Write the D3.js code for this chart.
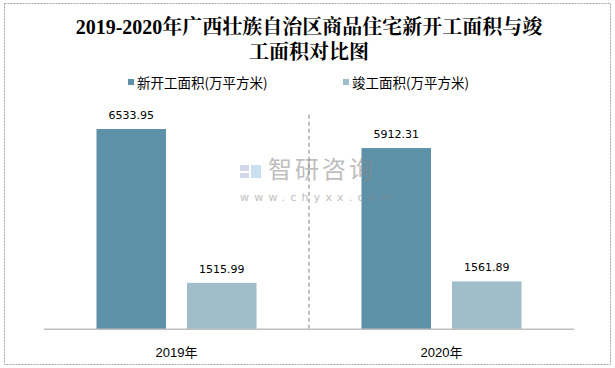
<!DOCTYPE html>
<html><head><meta charset="utf-8">
<script src="https://cdn.jsdelivr.net/npm/d3@7"></script>
<style>html,body{margin:0;padding:0;background:#fff;}svg{display:block;}</style>
</head><body>
<svg id="c" width="615" height="368"></svg>
<script>
const categories = ["2019年", "2020年"];
const seriesNames = ["新开工面积(万平方米)", "竣工面积(万平方米)"];
const newStarts = [6533.95, 5912.31];
const completed = [1515.99, 1561.89];
const titleLines = ["2019-2020年广西壮族自治区商品住宅新开工面积与竣", "工面积对比图"];
const colors = ["#5d91a7", "#a0bdca"];

const svg = d3.select("#c");
svg.append("rect").attr("x", 4.5).attr("y", 3.5).attr("width", 606).attr("height", 361)
  .attr("fill", "#fff").attr("stroke", "#a6a6a6").attr("stroke-dasharray", "2,1");

const t = svg.append("text").attr("text-anchor", "middle")
  .attr("font-family", "'Liberation Serif','Noto Serif CJK SC','Noto Sans CJK SC',serif")
  .attr("font-weight", "bold").attr("font-size", 20).attr("fill", "#000");
titleLines.forEach((l, i) => t.append("tspan").attr("x", 309).attr("y", 34 + i * 25).text(l));

const x = d3.scaleBand().domain(categories).range([44, 574]).paddingInner(0).paddingOuter(0);
const xs = d3.scaleBand().domain(seriesNames).range([0, x.bandwidth()]).paddingInner(0.232).paddingOuter(0.58);
const y = d3.scaleLinear().domain([0, 7000]).range([329.3, 114.7]);

// legend
const legendX = [128, 343];
seriesNames.forEach((s, i) => {
  svg.append("rect").attr("x", legendX[i]).attr("y", 79).attr("width", 6).attr("height", 6).attr("fill", colors[i]);
  svg.append("text").attr("x", legendX[i] + 9).attr("y", 88)
    .attr("font-family", "'Noto Sans CJK SC','Microsoft YaHei',sans-serif").attr("font-size", 13.5)
    .attr("fill", "#000").text(s);
});

// divider
svg.append("line").attr("x1", x.range()[0] + x.step()).attr("x2", x.range()[0] + x.step())
  .attr("y1", y(7000)).attr("y2", y(0)).attr("stroke", "#bfbfbf").attr("stroke-width", 2).attr("stroke-dasharray", "4,3");

const data = categories.map((c, i) => ({c, vals: [newStarts[i], completed[i]]}));
const g = svg.append("g");
data.forEach(d => {
  d.vals.forEach((v, j) => {
    const bx = x(d.c) + xs(seriesNames[j]);
    g.append("rect").attr("x", bx).attr("y", y(v)).attr("width", xs.bandwidth())
      .attr("height", y(0) - y(v)).attr("fill", colors[j]);
    g.append("text").attr("x", bx + xs.bandwidth() / 2).attr("y", y(v) - 10)
      .attr("text-anchor", "middle").attr("font-family", "'DejaVu Sans',sans-serif")
      .attr("font-size", 11).attr("fill", "#000").text(v.toFixed(2));
  });
});

const xAxis = svg.append("g").attr("transform", `translate(0,${y(0)})`)
  .call(d3.axisBottom(x).tickSize(0).tickPadding(18));
xAxis.select(".domain").attr("stroke", "#bfbfbf").attr("stroke-width", 1.5).attr("d", "M44,0H574");
xAxis.selectAll("text").attr("font-family", "'Liberation Sans','Noto Sans CJK SC',sans-serif")
  .attr("font-size", 13).attr("fill", "#000");

// watermark
const wm = svg.append("g").attr("opacity", 0.55);
wm.append("rect").attr("x", 240).attr("y", 165).attr("width", 9).attr("height", 6).attr("fill", "#a9b8d6");
wm.append("rect").attr("x", 240).attr("y", 173).attr("width", 9).attr("height", 5).attr("fill", "#a9b8d6");
wm.append("rect").attr("x", 251).attr("y", 165).attr("width", 10).attr("height", 13).attr("fill", "#9fc7e6");
wm.append("text").attr("x", 268).attr("y", 178).attr("font-family", "'Noto Sans CJK SC',sans-serif")
  .attr("font-size", 24).attr("fill", "#8a8a8a").attr("letter-spacing", 3).text("智研咨询");
wm.append("text").attr("x", 240).attr("y", 201).attr("font-family", "'DejaVu Sans',sans-serif")
  .attr("font-size", 11).attr("fill", "#8a8a8a").attr("letter-spacing", 5.2).text("www.chyxx.com");
</script>
</body></html>
